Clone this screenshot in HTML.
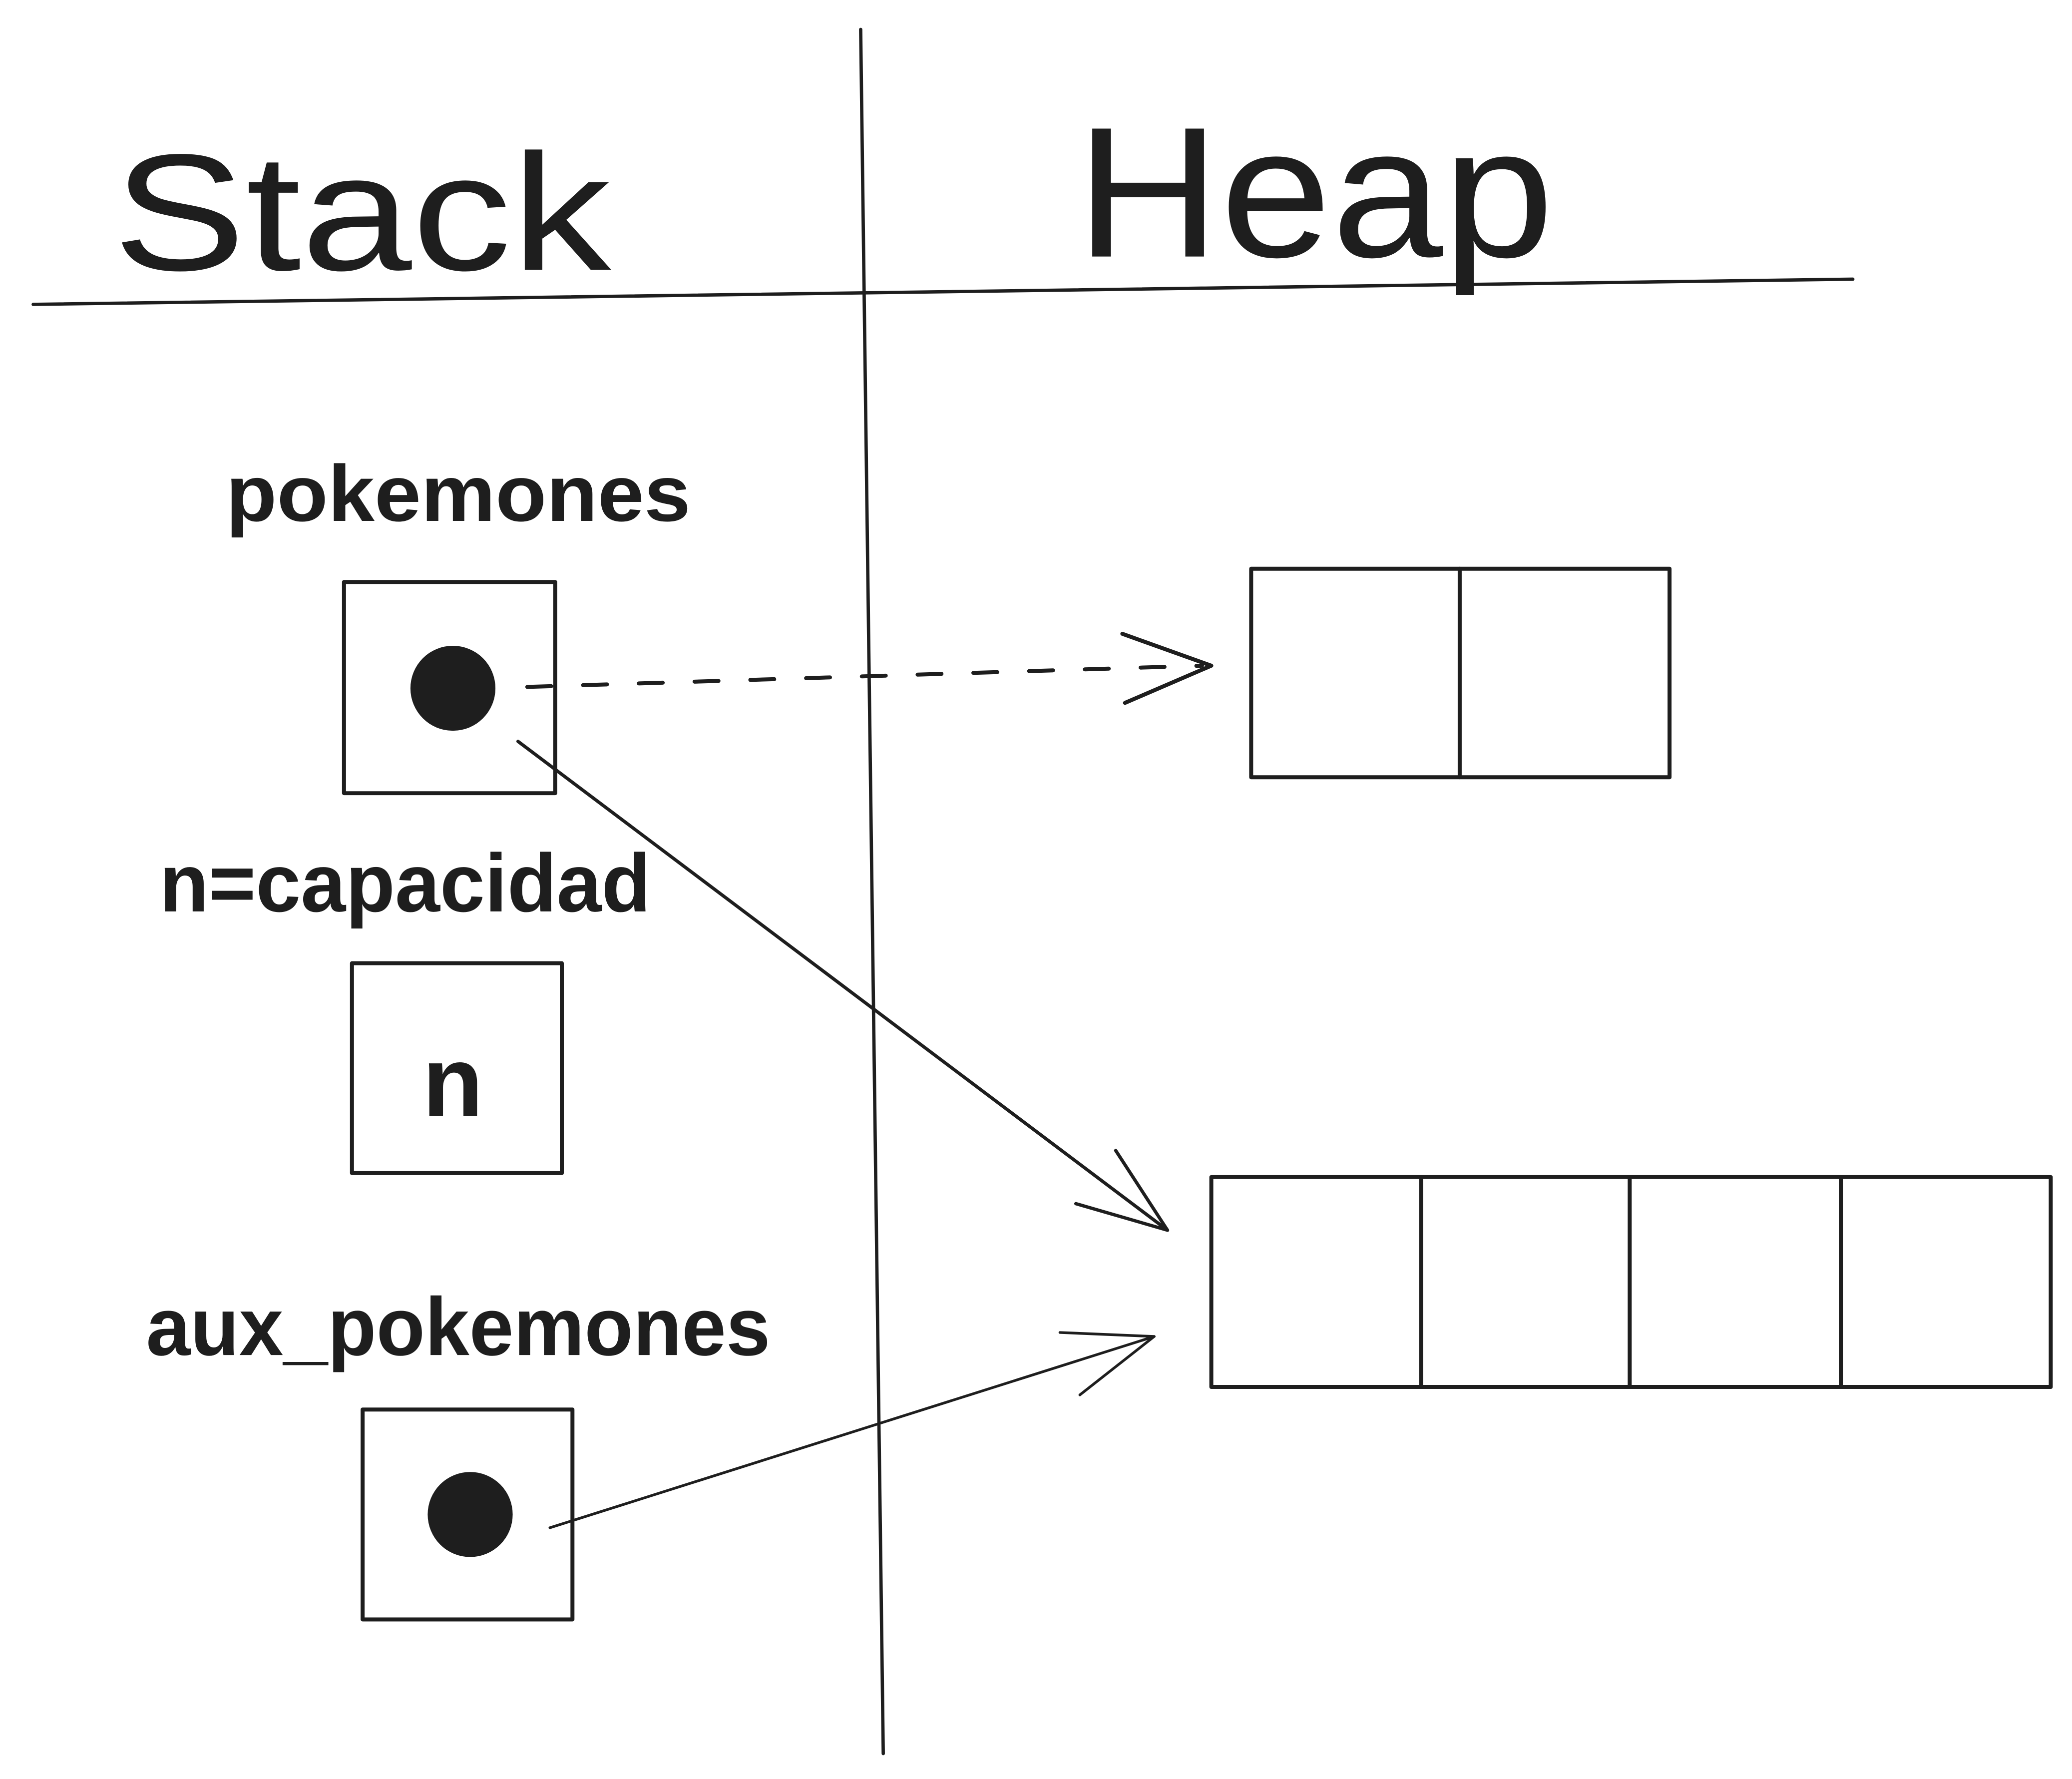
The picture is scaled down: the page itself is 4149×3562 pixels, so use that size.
<!DOCTYPE html>
<html><head><meta charset="utf-8"><style>
html,body{margin:0;padding:0;background:#fff;}
svg{display:block;}
text{font-family:"Liberation Sans",sans-serif;fill:#1e1e1e;}
</style></head><body>
<svg width="4149" height="3562" viewBox="0 0 1560 1339" xmlns="http://www.w3.org/2000/svg">
<rect width="1560" height="1339" fill="#fff"/>
<g stroke="#1e1e1e" fill="none" stroke-linecap="round" stroke-linejoin="round">
<line x1="648" y1="22" x2="665" y2="1320" stroke-width="2.5"/>
<line x1="25" y1="229" x2="1395" y2="210" stroke-width="2.5"/>
<rect x="259" y="438" width="159" height="159" stroke-width="3"/>
<rect x="265" y="725" width="158" height="158" stroke-width="3"/>
<rect x="273" y="1061" width="158" height="158" stroke-width="3"/>
<rect x="942" y="428" width="315" height="157" stroke-width="3"/>
<line x1="1099" y1="428" x2="1099" y2="585" stroke-width="3"/>
<rect x="912" y="886" width="632" height="158" stroke-width="3"/>
<line x1="1070" y1="886" x2="1070" y2="1044" stroke-width="3"/>
<line x1="1227" y1="886" x2="1227" y2="1044" stroke-width="3"/>
<line x1="1386" y1="886" x2="1386" y2="1044" stroke-width="3"/>
<line x1="397" y1="517" x2="905" y2="501" stroke-width="3" stroke-dasharray="18 24"/>
<polyline points="845,477 912,501 847,529" stroke-width="3"/>
<line x1="390" y1="558" x2="879" y2="926" stroke-width="2.5"/>
<polyline points="840,866 879,926 810,906" stroke-width="2.5"/>
<line x1="414" y1="1150" x2="869" y2="1006" stroke-width="2"/>
<polyline points="798,1003 869,1006 813,1050" stroke-width="2"/>
</g>
<circle cx="341" cy="518" r="32" fill="#1e1e1e"/>
<circle cx="354" cy="1140" r="32" fill="#1e1e1e"/>
<text x="85" y="203" font-size="125" textLength="375" lengthAdjust="spacingAndGlyphs">Stack</text>
<text x="810" y="193" font-size="140" textLength="360" lengthAdjust="spacingAndGlyphs">Heap</text>
<text x="170" y="392" font-size="60" font-weight="bold" textLength="350" lengthAdjust="spacingAndGlyphs">pokemones</text>
<text x="120" y="686" font-size="62" font-weight="bold" textLength="370" lengthAdjust="spacingAndGlyphs">n=capacidad</text>
<text x="318" y="840" font-size="75" font-weight="bold">n</text>
<text x="110" y="1020" font-size="62" font-weight="bold" textLength="470" lengthAdjust="spacingAndGlyphs">aux_pokemones</text>
</svg>
</body></html>
